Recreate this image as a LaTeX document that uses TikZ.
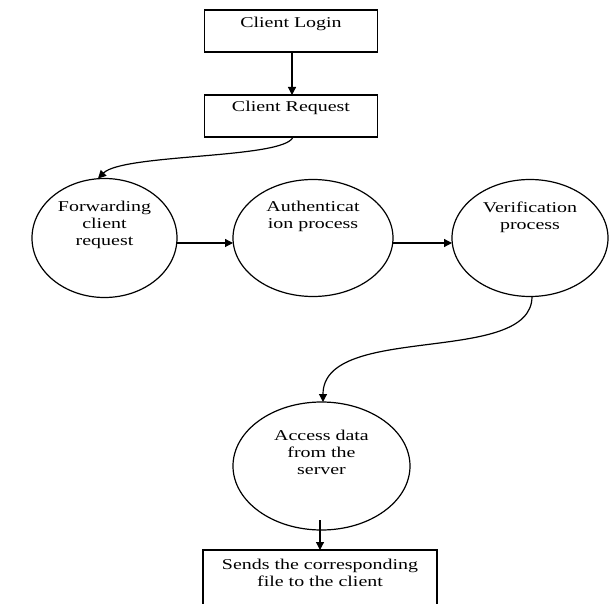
\documentclass[tikz,border=0pt]{standalone}
\usepackage{fontspec}
\setmainfont[FakeStretch=1.33]{Liberation Serif}
\usetikzlibrary{arrows.meta,shapes.geometric}

% text block with its first baseline a given distance below the block top
\newcommand{\blocktext}[4]{\parbox[c][#2][t]{#1}{\centering\vspace*{\dimexpr#3-11pt\relax}\rule{0pt}{11pt}#4\par}}

\tikzset{
  every node/.style={inner sep=0pt, outer sep=0pt},
  stepbox/.style={draw, line width=1.2pt, rectangle},
  bubble/.style={draw, line width=1.2pt, ellipse},
  flow/.style={line width=1.2pt, -{Triangle[length=8pt,width=8pt]}},
}

\begin{document}
\begin{tikzpicture}[x=1pt,y=-1pt,font=\fontsize{15}{17}\selectfont]
\useasboundingbox (0,0) rectangle (611,604);
\clip (0,0) rectangle (611,604);

% boxes
\node[stepbox] (login) at (291,31) {\blocktext{173pt}{42pt}{18pt}{Client Login}};
\node[stepbox] (req) at (291,116) {\blocktext{173pt}{42pt}{17pt}{Client Request}};

% process bubbles
\node[bubble, minimum width=145pt, minimum height=119pt] (fwd) at (104.5,238)
  {\blocktext{100pt}{83pt}{15pt}{Forwarding\\client\\request}};
\node[bubble, minimum width=160pt, minimum height=117pt] (auth) at (313,238)
  {\blocktext{112pt}{81pt}{14pt}{Authenticat\\ion process}};
\node[bubble, minimum width=156pt, minimum height=117pt] (verif) at (530,238)
  {\blocktext{109pt}{81pt}{15pt}{Verification\\process}};
\node[bubble, minimum width=177pt, minimum height=128pt] (acc) at (321.5,466)
  {\blocktext{123pt}{89pt}{18.5pt}{Access data\\from the\\server}};

% final box, running past the lower edge
\node[stepbox] (send) at (320,585) {\blocktext{234pt}{70pt}{19pt}{Sends the corresponding\\file to the client}};

% connectors
\draw[flow] ([xshift=1pt]login.south) -- ([xshift=1pt]req.north);
\draw[flow] ([xshift=2pt]req.south) .. controls +(-8,22) and +(25,-25) .. ([xshift=-6.5pt]fwd.north);
\draw[flow] ([yshift=-5pt]fwd.east) -- ([yshift=-5pt]auth.west);
\draw[flow] ([yshift=-5pt]auth.east) -- ([yshift=-5pt]verif.west);
\draw[flow] ([xshift=2pt]verif.south) .. controls +(0,70) and +(0,-80) .. ([xshift=1.5pt]acc.north);
\draw[flow] ([xshift=-1.5pt,yshift=10pt]acc.south) -- ([xshift=-1.5pt]send.north -| acc.south);
\end{tikzpicture}
\end{document}
